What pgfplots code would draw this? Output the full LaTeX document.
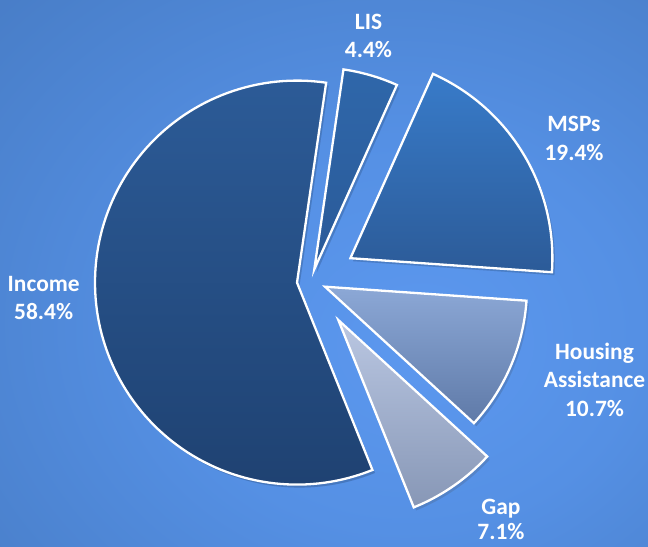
\documentclass[border=0pt]{standalone}
\usepackage{pgfplots}
\pgfplotsset{compat=1.18}
\usepackage{fontspec}
\setmainfont{Carlito}
\definecolor{bgA}{HTML}{5C98EF}
\definecolor{bgB}{HTML}{5590E4}
\definecolor{bgC}{HTML}{4A80CB}
\definecolor{bgD}{HTML}{4170B5}
\definecolor{bgE}{HTML}{3B66A6}
\definecolor{incT}{HTML}{2C5B97}
\definecolor{incB}{HTML}{1F4272}
\definecolor{lisT}{HTML}{2F67AA}
\definecolor{lisB}{HTML}{2A5A98}
\definecolor{mspT}{HTML}{387BC9}
\definecolor{mspB}{HTML}{2C5B98}
\definecolor{houT}{HTML}{8CA8D6}
\definecolor{houB}{HTML}{5F7AA8}
\definecolor{gapT}{HTML}{BAC7E2}
\definecolor{gapB}{HTML}{8797B6}
\pgfdeclareradialshading{bgshade}{\pgfpoint{8bp}{-7bp}}{color(0bp)=(bgA); color(18bp)=(bgB); color(38bp)=(bgC); color(58bp)=(bgD); color(75bp)=(bgE); color(85bp)=(bgE)}
% slice values (percent)
\def\vLIS{4.4}
\def\vMSP{19.4}
\def\vHou{10.7}
\def\vGap{7.1}
\def\vInc{58.4}
\def\R{202}
\pgfmathsetmacro\aA{81.7}
\pgfmathsetmacro\aB{\aA-3.6*\vLIS}
\pgfmathsetmacro\aC{\aB-3.6*\vMSP}
\pgfmathsetmacro\aD{\aC-3.6*\vHou}
\pgfmathsetmacro\aE{\aD-3.6*\vGap}
\pgfmathsetmacro\aF{\aE-3.6*\vInc}
\pgfplotsset{slice/.style={draw=white, line width=2.3bp, data cs=polar, samples=60,
  preaction={fill=black, fill opacity=0.12, draw=none, transform canvas={shift={(2.5bp,-3bp)}}}}}
\tikzset{lab/.style={text=white, inner sep=0pt, anchor=base, font=\fontsize{23.5}{26}\selectfont\bfseries}}
\begin{document}
\begin{tikzpicture}
\begin{axis}[x=1bp, y=1bp, xmin=-297, xmax=351, ymin=-264.4, ymax=282.6,
  hide axis, clip=false, scale only axis,
  axis background/.style={shade, shading=bgshade}]
\addplot[slice, top color=incT, bottom color=incB, domain=\aF:\aE, samples=120] (x,\R) -- (axis cs:0,0) -- cycle;
\addplot[slice, top color=lisT, bottom color=lisB, domain=\aB:\aA, shift={(17.3bp,13.3bp)}] (x,\R) -- (axis cs:0,0) -- cycle;
\addplot[slice, top color=mspT, bottom color=mspB, domain=\aC:\aB, shift={(53.4bp,24.4bp)}] (x,\R) -- (axis cs:0,0) -- cycle;
\addplot[slice, top color=houT, bottom color=houB, domain=\aD:\aC, shift={(28bp,-4.1bp)}] (x,\R) -- (axis cs:0,0) -- cycle;
\addplot[slice, top color=gapT, bottom color=gapB, domain=\aE:\aD, shift={(41.3bp,-37.4bp)}] (x,\R) -- (axis cs:0,0) -- cycle;
\node[lab] at (axis cs:71.5,253.1) {LIS};
\node[lab] at (axis cs:71.5,224.6) {4.4\%};
\node[lab] at (axis cs:277,150.6) {MSPs};
\node[lab] at (axis cs:277,122.1) {19.4\%};
\node[lab] at (axis cs:-253.3,-9.4) {Income};
\node[lab] at (axis cs:-253.3,-37.4) {58.4\%};
\node[lab] at (axis cs:297.5,-76.9) {Housing};
\node[lab] at (axis cs:297.5,-105.4) {Assistance};
\node[lab] at (axis cs:297.5,-133.9) {10.7\%};
\node[lab] at (axis cs:204,-231.5) {Gap};
\node[lab] at (axis cs:204,-256.5) {7.1\%};
\coordinate (BL) at (axis cs:-297,-264.4);
\coordinate (TR) at (axis cs:351,282.6);
\end{axis}
\pgfresetboundingbox
\path[use as bounding box] (BL) rectangle (TR);
\end{tikzpicture}
\end{document}
